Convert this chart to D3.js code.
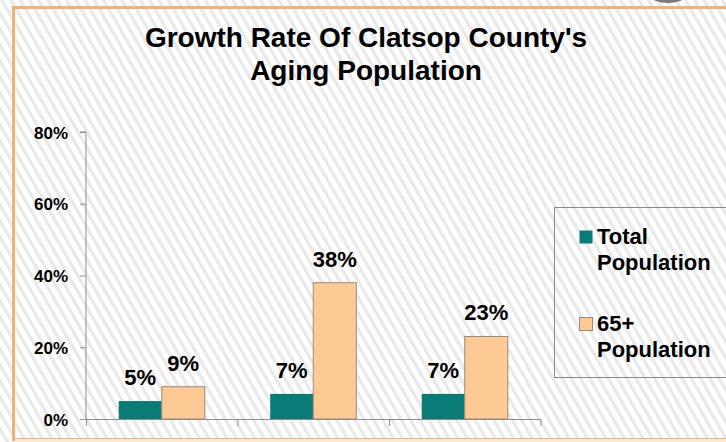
<!DOCTYPE html>
<html>
<head>
<meta charset="utf-8">
<script src="https://cdn.jsdelivr.net/npm/d3@7"></script>
<style>
  html, body { margin: 0; padding: 0; background: #ffffff; }
  svg { display: block; }
  text { font-family: "Liberation Sans", Arial, sans-serif; font-weight: bold; fill: #000; }
</style>
</head>
<body>
<svg id="chart" width="726" height="442"></svg>
<script>
// Growth rate by period, two population groups
const categories = ["A", "B", "C"];
const seriesNames = ["Total Population", "65+ Population"];
const totalPopulation = [5, 7, 7];
const seniorPopulation = [9, 38, 23];
const yTicks = [0, 20, 40, 60, 80];
const titleLines = ["Growth Rate Of Clatsop County's", "Aging Population"];
const legendLines = [["Total", "Population"], ["65+", "Population"]];

const colors = ["#0b7b78", "#fdc995"];
const W = 726, H = 442;
const svg = d3.select("#chart");

// striped backdrop
const defs = svg.append("defs");
const pat = defs.append("pattern")
  .attr("id", "stripes")
  .attr("patternUnits", "userSpaceOnUse")
  .attr("width", 8).attr("height", 8)
  .attr("patternTransform", "rotate(-30)");
pat.append("rect").attr("width", 8).attr("height", 8).attr("fill", "#ffffff");
pat.append("rect").attr("x", 0).attr("width", 3.2).attr("height", 8).attr("fill", "#e9e9e9");

svg.append("rect").attr("width", W).attr("height", H).attr("fill", "url(#stripes)");

// logo fragment peeking over the top edge
svg.append("ellipse").attr("cx", 668).attr("cy", -3).attr("rx", 16).attr("ry", 6)
  .attr("fill", "#5a5a5a").attr("opacity", 0.8);

// orange frame
svg.append("rect")
  .attr("x", 13.5).attr("y", 7.5).attr("width", 760).attr("height", 432)
  .attr("fill", "none").attr("stroke", "#efb27a").attr("stroke-width", 3);
svg.append("line").attr("x1", 15).attr("x2", W).attr("y1", 440.5).attr("y2", 440.5)
  .attr("stroke", "#f6ead8").attr("stroke-width", 3);

// title
svg.append("text")
  .attr("text-anchor", "middle")
  .style("font-size", "28px")
  .selectAll("tspan").data(titleLines).join("tspan")
  .attr("x", 366)
  .attr("y", (d, i) => 47 + i * 33)
  .text(d => d);

// scales
const y = d3.scaleLinear().domain([0, 80]).range([419, 132]);
const x0 = d3.scaleBand().domain(categories).range([86, 540.5]).padding(0);
const x1 = d3.scaleBand().domain(seriesNames).range([0, x0.bandwidth()])
  .paddingInner(0).paddingOuter(0.76);

const axisColor = "#8e8e8e";

// y axis
const yAxis = svg.append("g").attr("transform", "translate(86,0)")
  .call(d3.axisLeft(y).tickValues(yTicks).tickSize(6).tickPadding(12).tickFormat(d => d + "%"));
yAxis.select(".domain").attr("stroke", axisColor).attr("d", `M-6,${y(80)}H0V${y(0)}`);
yAxis.selectAll(".tick line").attr("stroke", axisColor);
yAxis.selectAll(".tick text")
  .style("font-family", "'Liberation Sans', Arial, sans-serif")
  .style("font-weight", "bold").style("font-size", "17px").attr("fill", "#000")
  .attr("dy", "0.36em");

// x axis (category boundaries as ticks, no labels)
svg.append("line")
  .attr("x1", 80).attr("x2", 540.5).attr("y1", y(0) + 0.5).attr("y2", y(0) + 0.5)
  .attr("stroke", axisColor);
const bounds = categories.map(c => x0(c)).concat([x0(categories[2]) + x0.bandwidth()]);
svg.selectAll(".xtick").data(bounds).join("line")
  .attr("x1", d => d + 0.5).attr("x2", d => d + 0.5)
  .attr("y1", y(0)).attr("y2", y(0) + 7)
  .attr("stroke", axisColor);

// bars
const rows = categories.map((c, i) => ({
  cat: c,
  vals: [totalPopulation[i], seniorPopulation[i]]
}));
const groups = svg.selectAll(".grp").data(rows).join("g")
  .attr("transform", d => `translate(${x0(d.cat)},0)`);

groups.selectAll("rect").data(d => d.vals.map((v, j) => ({ v, j })))
  .join("rect")
  .attr("x", d => x1(seriesNames[d.j]))
  .attr("width", x1.bandwidth())
  .attr("y", d => y(d.v))
  .attr("height", d => y(0) - y(d.v))
  .attr("fill", d => colors[d.j])
  .attr("stroke", d => d.j === 1 ? "#9a8a78" : "none")
  .attr("stroke-width", 1);

groups.selectAll("text").data(d => d.vals.map((v, j) => ({ v, j })))
  .join("text")
  .attr("x", d => x1(seriesNames[d.j]) + x1.bandwidth() / 2)
  .attr("y", d => y(d.v) - 16)
  .attr("text-anchor", "middle")
  .style("font-size", "22px")
  .text(d => d.v + "%");

// legend
svg.append("rect")
  .attr("x", 554.5).attr("y", 207.5).attr("width", 200).attr("height", 170)
  .attr("fill", "none").attr("stroke", "#8a8a8a").attr("stroke-width", 1);

const legendBase = [244, 331];
legendLines.forEach((lines, i) => {
  svg.append("rect")
    .attr("x", 579.5).attr("y", legendBase[i] - 13.5)
    .attr("width", 13).attr("height", 13)
    .attr("fill", colors[i])
    .attr("stroke", i === 1 ? "#9a8a78" : "none");
  svg.append("text")
    .style("font-size", "22px")
    .selectAll("tspan").data(lines).join("tspan")
    .attr("x", 597)
    .attr("y", (d, k) => legendBase[i] + k * 25.5)
    .text(d => d);
});
</script>
</body>
</html>
